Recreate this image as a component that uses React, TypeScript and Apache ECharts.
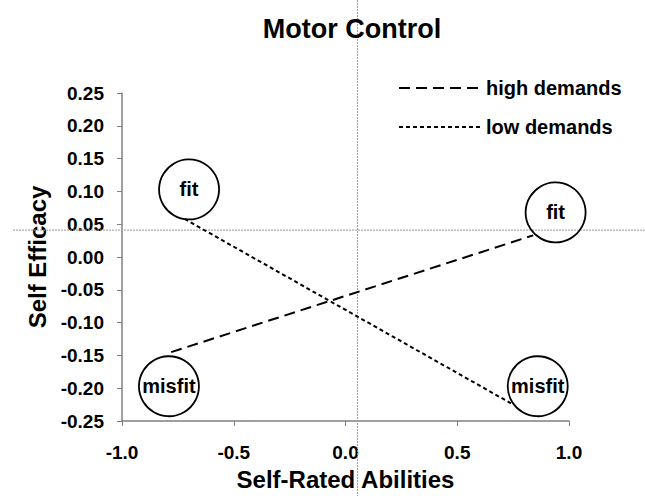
import React, { useEffect, useRef } from "react";
import * as echarts from "echarts";

const titleText = "Motor Control";
const xAxisName = "Self-Rated Abilities";
const yAxisName = "Self Efficacy";
const seriesNames = ["high demands", "low demands"];

const highDemandsX = [-0.78, 0.84];
const highDemandsY = [-0.145, 0.033];
const lowDemandsX = [-0.72, 0.74];
const lowDemandsY = [0.058, -0.223];

const circleLabels = ["fit", "fit", "misfit", "misfit"];
const circleX = [-0.7, 0.94, -0.79, 0.86];
const circleY = [0.103, 0.068, -0.197, -0.197];

const refX = 0.054;
const refY = 0.041;

const FONT = "'Liberation Sans', Arial, sans-serif";

export default function App() {
  const ref = useRef<HTMLDivElement>(null);
  useEffect(() => {
    if (!ref.current) return;
    const chart = echarts.init(ref.current, null, { renderer: "svg" });
    const pair = (xs: number[], ys: number[]) => xs.map((x, i) => [x, ys[i]]);
    chart.setOption({
      animation: false,
      textStyle: { fontFamily: FONT },
      title: {
        text: titleText,
        left: 347,
        textAlign: "center",
        top: 10,
        textStyle: { fontFamily: FONT, fontSize: 27, fontWeight: "bold", color: "#000" },
      },
      grid: { left: 122, right: 76, top: 93, bottom: 73 },
      legend: {
        orient: "vertical",
        left: 393,
        top: 73,
        itemWidth: 82,
        itemHeight: 14,
        itemGap: 19,
        data: seriesNames,
        itemStyle: { color: "rgba(0,0,0,0)", borderWidth: 0 },
        textStyle: { fontFamily: FONT, fontSize: 20, lineHeight: 20, fontWeight: "bold", color: "#000" },
      },
      xAxis: {
        type: "value",
        min: -1,
        max: 1,
        interval: 0.5,
        name: xAxisName,
        nameLocation: "middle",
        nameGap: 46,
        nameTextStyle: { fontFamily: FONT, fontSize: 24, fontWeight: "bold", color: "#000" },
        axisLine: { onZero: false, lineStyle: { color: "#808080", width: 1.5 } },
        axisTick: { show: true, length: 5, lineStyle: { color: "#808080" } },
        axisLabel: {
          formatter: (v: number) => v.toFixed(1),
          fontFamily: FONT,
          fontSize: 19,
          fontWeight: "bold",
          color: "#000",
          margin: 22,
        },
        splitLine: { show: false },
      },
      yAxis: {
        type: "value",
        min: -0.25,
        max: 0.25,
        interval: 0.05,
        name: yAxisName,
        nameLocation: "middle",
        nameGap: 64,
        nameTextStyle: { fontFamily: FONT, fontSize: 24, fontWeight: "bold", color: "#000" },
        axisLine: { onZero: false, lineStyle: { color: "#808080", width: 1.5 } },
        axisTick: { show: true, length: 5, lineStyle: { color: "#808080" } },
        axisLabel: {
          formatter: (v: number) => v.toFixed(2),
          fontFamily: FONT,
          fontSize: 19,
          fontWeight: "bold",
          color: "#000",
          margin: 18,
        },
        splitLine: { show: false },
      },
      series: [
        {
          name: seriesNames[0],
          type: "line",
          data: pair(highDemandsX, highDemandsY),
          symbol: "none",
          lineStyle: { color: "#000", width: 2, type: [11, 6] },
          itemStyle: { color: "#000" },
        },
        {
          name: seriesNames[1],
          type: "line",
          data: pair(lowDemandsX, lowDemandsY),
          symbol: "none",
          lineStyle: { color: "#000", width: 2, type: [4, 3] },
          itemStyle: { color: "#000" },
        },
        {
          name: "circles",
          type: "scatter",
          symbol: "circle",
          symbolSize: 60,
          z: 5,
          data: circleX.map((x, i) => ({ value: [x, circleY[i]], name: circleLabels[i] })),
          itemStyle: { color: "rgba(255,255,255,0)", borderColor: "#000", borderWidth: 1.8, opacity: 1 },
          label: {
            show: true,
            position: "inside",
            formatter: (p: any) => p.name,
            fontFamily: FONT,
            fontSize: 20,
            fontWeight: "bold",
            color: "#000",
            textBorderWidth: 0,
          },
          emphasis: { disabled: true },
        },
      ],
    });
    const px = chart.convertToPixel({ gridIndex: 0 }, [refX, refY]) as number[];
    const W = chart.getWidth();
    const H = chart.getHeight();
    chart.setOption({
      graphic: [
        {
          type: "line",
          shape: { x1: px[0], y1: 0, x2: px[0], y2: H },
          style: { stroke: "#9a9a9a", lineWidth: 1, lineDash: [2, 1] },
          silent: true,
          z: 1,
        },
        {
          type: "line",
          shape: { x1: 13, y1: px[1], x2: W, y2: px[1] },
          style: { stroke: "#9a9a9a", lineWidth: 1, lineDash: [2, 1] },
          silent: true,
          z: 1,
        },
      ],
    });
    return () => chart.dispose();
  }, []);
  return <div ref={ref} style={{ width: 645, height: 496, position: "absolute", left: 0, top: 0 }} />;
}
